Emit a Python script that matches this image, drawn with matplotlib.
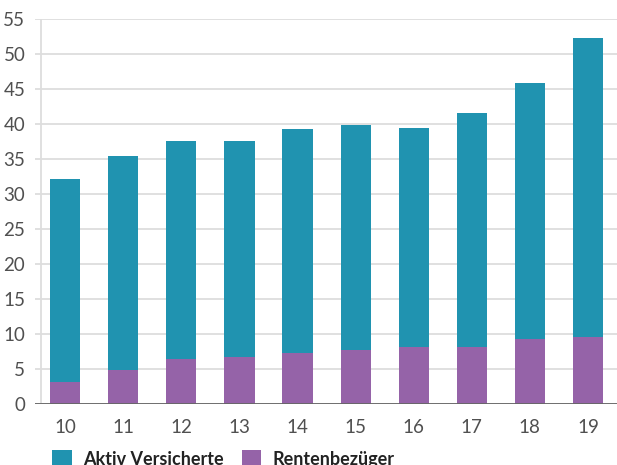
import numpy as np
import matplotlib
matplotlib.use("Agg")
import matplotlib.pyplot as plt

years = ["10", "11", "12", "13", "14", "15", "16", "17", "18", "19"]
totals = [32.1, 35.4, 37.5, 37.5, 39.2, 39.9, 39.4, 41.6, 45.9, 52.3]
renten = [3.1, 4.8, 6.4, 6.7, 7.2, 7.7, 8.1, 8.1, 9.2, 9.5]
aktiv = [t - r for t, r in zip(totals, renten)]
yticks = list(range(0, 56, 5))

teal = "#2093b0"
purple = "#9563a8"

plt.rcParams['font.family'] = ['Lato', 'DejaVu Sans']

fig = plt.figure(figsize=(6.17, 4.65), dpi=100)
ax = fig.add_axes([35 / 617, 61.5 / 465, 1 - 35 / 617, (446 - 61.5) / 465])

x = np.arange(len(years))
ax.bar(x, renten, width=0.52, color=purple, label="Rentenbezüger", zorder=3)
ax.bar(x, aktiv, width=0.52, bottom=renten, color=teal, label="Aktiv Versicherte", zorder=3)

ax.set_ylim(0, 55)
ax.set_xlim(-0.52, 9.5)
ax.set_yticks(yticks)
ax.set_xticks(x)
ax.set_xticklabels(years)
ax.grid(axis="y", color="#dddddd", linewidth=1.3, zorder=0)
ax.axvline(-0.41, color="#dddddd", linewidth=1.3, zorder=1)
ax.axhline(0, color="#666666", linewidth=1.3, zorder=4)
for s in ax.spines.values():
    s.set_visible(False)
ax.tick_params(axis="both", length=0, labelsize=13.5, labelcolor="#505050")
ax.tick_params(axis="y", pad=7)
ax.tick_params(axis="x", pad=11)

h, l = ax.get_legend_handles_labels()
fig.legend(h[::-1], l[::-1], loc="upper left", bbox_to_anchor=(45 / 617, 1 - 443 / 465),
           ncol=2, frameon=False, handlelength=1.1, handleheight=1.1, handletextpad=0.6,
           columnspacing=1.0, borderaxespad=0,
           prop={"weight": "bold", "size": 13})
for t in fig.legends[0].get_texts():
    t.set_color("#222222")

fig.savefig("out.png", dpi=100)
